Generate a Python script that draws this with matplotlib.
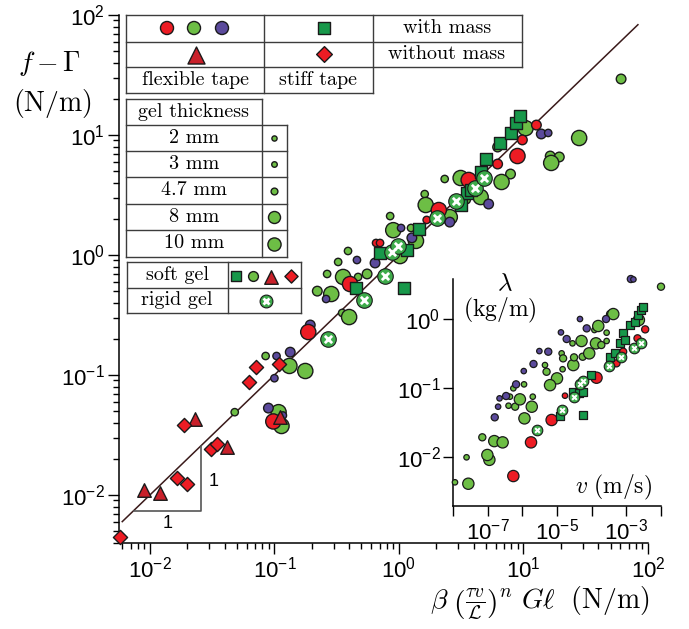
import matplotlib
matplotlib.use('Agg')
import matplotlib.pyplot as plt
from matplotlib.ticker import FixedLocator, FuncFormatter, NullLocator, LogLocator, NullFormatter
import numpy as np

plt.rcParams['font.family'] = 'Liberation Sans'
plt.rcParams['mathtext.fontset'] = 'custom'
plt.rcParams['mathtext.rm'] = 'Liberation Sans'
plt.rcParams['mathtext.it'] = 'Liberation Sans:italic'
plt.rcParams['mathtext.bf'] = 'Liberation Sans:bold'

# ---- main plot data: x = beta (tau v / L)^n G l, y = f - Gamma (N/m), gel thickness in mm
red_x = [0.098, 0.187, 0.405, 0.655, 0.705, 1.67, 2.09, 3.63, 6.2, 8.95, 9.8, 12.7]
red_y = [0.041, 0.228, 0.573, 1.26, 1.26, 1.96, 2.37, 4.22, 5.73, 6.68, 9.1, 12.1]
red_mm = [10, 10, 10, 3, 3, 3, 10, 10, 4.7, 10, 4.7, 4.7]

purple_x = [0.0895, 0.117, 0.104, 0.1, 0.134, 0.194, 0.26, 0.46, 0.643, 1.04, 1.27, 2.56,
            5.25, 13.9, 15.8]
purple_y = [0.053, 0.046, 0.144, 0.094, 0.155, 0.261, 0.43, 0.908, 0.858, 1.68, 1.39, 1.88,
            2.66, 10.2, 10.4]
purple_mm = [4.7, 3, 3, 3, 4.7, 4.7, 3, 3, 4.7, 3, 4.7, 4.7, 4.7, 4.7, 3]

green_x = [0.048, 0.085, 0.132, 0.177, 0.108, 0.114, 0.35, 0.398, 0.221, 0.286, 0.265, 0.356,
           0.47, 0.555, 0.325, 0.39, 1.02, 0.9, 0.85, 1.25, 1.37, 1.61, 1.64, 2.33, 2.56,
           3.5, 3.13, 4.53, 7.87, 6.67, 6.2, 8.95, 10.4, 16.4, 19.4, 16.7, 28.0, 60.8]
green_y = [0.049, 0.144, 0.119, 0.108, 0.049, 0.0376, 0.329, 0.304, 0.50, 0.473, 0.695, 0.656,
           0.656, 0.695, 0.875, 1.08, 0.98, 1.61, 2.11, 1.68, 1.31, 3.22, 2.61, 4.3, 2.07,
           2.87, 4.38, 3.04, 4.73, 4.06, 7.94, 11.7, 11.4, 6.68, 6.56, 5.85, 9.44, 29.3]
green_mm = [3, 3, 10, 10, 10, 10, 3, 10, 4.7, 10, 3, 10,
            3, 4.7, 3, 3, 10, 10, 3, 3, 10, 3, 10, 3, 10,
            3, 10, 10, 4.7, 10, 4.7, 3, 10, 4.7, 4.7, 10, 10, 4.7]

square_x = [0.453, 1.1, 0.705, 1.45, 1.16, 3.13, 3.5, 3.77, 4.6, 4.97, 6.43, 8.0, 8.63, 9.46]
square_y = [0.531, 0.531, 1.04, 1.65, 1.1, 2.61, 3.29, 3.48, 4.92, 6.3, 8.57, 10.4, 12.6, 14.4]

rigid_x = [0.27, 0.525, 0.77, 0.88, 0.98, 2.01, 2.86, 4.06, 4.79]
rigid_y = [0.2, 0.42, 0.668, 1.06, 1.19, 2.03, 2.82, 3.61, 4.38]

triangle_x = [0.0090, 0.012, 0.023, 0.042, 0.110]
triangle_y = [0.011, 0.0104, 0.043, 0.025, 0.0447]

diamond_x = [0.0058, 0.0165, 0.020, 0.0187, 0.031, 0.0344, 0.063, 0.0718, 0.108]
diamond_y = [0.0045, 0.0139, 0.0123, 0.0383, 0.0242, 0.0266, 0.0875, 0.1166, 0.124]

# ---- inset data: v (m/s), lambda (kg/m)
in_red_v = [5.5e-7, 1.78e-6, 7.0e-6, 1.7e-5, 1.38e-4, 5.2e-4, 8.1e-4, 2.1e-3, 3.5e-3]
in_red_l = [0.0053, 0.0163, 0.0344, 0.0774, 0.141, 0.228, 0.336, 0.525, 0.708]
in_red_mm = [10, 10, 10, 3, 10, 4.7, 4.7, 4.7, 4.7]

in_purple_v = [2.0e-7, 2.2e-7, 1.6e-7, 3.4e-7, 6.6e-7, 1.1e-6, 2.1e-6, 3.1e-6, 5.6e-6,
               1.3e-5, 1.9e-5, 4.6e-5, 7.2e-5, 2.6e-4, 1.35e-3, 1.6e-3]
in_purple_l = [0.0536, 0.0708, 0.0376, 0.0766, 0.113, 0.176, 0.223, 0.343, 0.336,
               0.64, 0.513, 1.0, 0.732, 1.0, 3.8, 3.75]
in_purple_mm = [3, 3, 4.7, 4.7, 4.7, 3, 4.7, 3, 4.7, 3, 4.7, 3, 4.7, 4.7, 4.7, 3]

in_green_v = [1.14e-8, 2.77e-8, 2.46e-8, 7.0e-8, 1.12e-7, 9.8e-8, 1.55e-7, 2.7e-7, 4.4e-7,
              5.5e-7, 4.0e-7, 6.2e-7, 8.5e-7, 1.12e-6, 2.0e-6, 1.87e-6, 1.15e-6, 4.5e-6,
              5.0e-6, 1.0e-5, 6.3e-6, 1.45e-5, 1.36e-5, 1.5e-5, 2.95e-5, 3.1e-5, 2.8e-5,
              5.1e-5, 5.5e-5, 8.5e-5, 1.33e-4, 2.7e-4, 1.9e-4, 2.7e-4, 1.2e-4, 1.55e-4,
              3.4e-4, 4.2e-4, 2.3e-3, 1.0e-2]
in_green_l = [0.0043, 0.0041, 0.0099, 0.0193, 0.0091, 0.0107, 0.017, 0.0163, 0.0749,
              0.099, 0.0554, 0.0536, 0.0685, 0.113, 0.0749, 0.0536, 0.0363, 0.215,
              0.172, 0.138, 0.11, 0.187, 0.318, 0.269, 0.215, 0.278, 0.444,
              0.48, 0.284, 0.318, 0.444, 0.48, 0.42, 0.634, 0.693, 0.792,
              1.18, 1.18, 0.967, 2.94]
in_green_mm = [3, 10, 3, 4.7, 10, 10, 10, 10, 3,
               3, 3, 4.7, 10, 3, 3, 10, 10, 3,
               4.7, 10, 10, 3, 3, 4.7, 10, 4.7, 3,
               10, 4.7, 10, 10, 3, 4.7, 3, 3, 10,
               4.7, 10, 10, 4.7]

in_square_v = [1.23e-5, 5.5e-5, 2.95e-5, 4.2e-5, 5.75e-5, 9.6e-5, 3.4e-4, 4.7e-4, 6.6e-4,
               7.8e-4, 9.1e-4, 1.28e-3, 1.78e-3, 2.24e-3, 2.57e-3, 2.95e-3]
in_square_l = [0.0393, 0.0406, 0.0885, 0.084, 0.0885, 0.154, 0.284, 0.318, 0.444,
               0.62, 0.497, 0.818, 0.914, 1.14, 1.35, 1.51]

in_rigid_v = [2.6e-6, 1.36e-5, 3.1e-5, 4.6e-5, 5.75e-5, 3.16e-4, 6.9e-4, 1.66e-3, 2.57e-3]
in_rigid_l = [0.0246, 0.048, 0.0749, 0.114, 0.126, 0.208, 0.284, 0.376, 0.454]

thickness_labels = ['2 mm', '3 mm', '4.7 mm', '8 mm', '10 mm']
thickness_values = [2, 3, 4.7, 8, 10]

# ---- styles
RED = '#ed1c24'
DARKRED = '#c9202a'
GREEN = '#6dbe45'
DKGREEN = '#17984a'
RIGID = '#3eab4b'
PURPLE = '#5b4a9c'
EDGE = '#1a1a1a'
SIZE = {2: 22, 3: 28, 4.7: 48, 8: 105, 10: 120}
LEGEND_SIZE = {2: 14, 3: 16, 4.7: 24, 8: 75, 10: 90}


def sizes(mm, scale):
    return [SIZE[m] * scale for m in mm]


def draw_rigid(ax, x, y, s, xfrac=0.24, xlw=2.0):
    ax.scatter(x, y, s=s, c=RIGID, edgecolors=EDGE, linewidths=0.8, zorder=6, clip_on=False)
    ax.scatter(x, y, s=s * xfrac, marker='x', c='white', linewidths=xlw, zorder=7, clip_on=False)


fig = plt.figure(figsize=(6.89, 6.29), dpi=100)

# ---- main axes
ax = fig.add_axes([119 / 689, 86 / 629, 529 / 689, 528 / 629])
ax.set_xscale('log')
ax.set_yscale('log')
ax.set_xlim(10 ** -2.248, 100)
ax.set_ylim(10 ** -2.4, 100)
for side in ['top', 'right']:
    ax.spines[side].set_visible(False)
for side in ['left', 'bottom']:
    ax.spines[side].set_linewidth(1.1)
ax.set_facecolor('none')
ax.xaxis.set_major_locator(LogLocator(base=10, numticks=10))
ax.yaxis.set_major_locator(LogLocator(base=10, numticks=10))
ax.xaxis.set_minor_locator(LogLocator(base=10, subs=np.arange(2, 10), numticks=20))
ax.yaxis.set_minor_locator(LogLocator(base=10, subs=np.arange(2, 10), numticks=20))
ax.xaxis.set_minor_formatter(NullFormatter())
ax.yaxis.set_minor_formatter(NullFormatter())
ax.tick_params(which='both', direction='out', width=1.0, labelsize=16, pad=2)
ax.tick_params(which='major', length=8)
ax.tick_params(which='minor', length=4)

ax.plot([0.006, 83], [0.006, 83], color='#3a1a1a', lw=1.1, zorder=1)
# slope triangle
ax.plot([10 ** -2.13, 10 ** -1.59, 10 ** -1.59], [10 ** -2.13, 10 ** -2.13, 10 ** -1.59],
        color='#555555', lw=1.2, zorder=1)

ax.scatter(green_x, green_y, s=sizes(green_mm, 1.0), c=GREEN, edgecolors=EDGE, linewidths=1.0, zorder=3)
ax.scatter(purple_x, purple_y, s=sizes(purple_mm, 1.0), c=PURPLE, edgecolors=EDGE, linewidths=1.0, zorder=3)
ax.scatter(red_x, red_y, s=sizes(red_mm, 1.0), c=RED, edgecolors=EDGE, linewidths=1.0, zorder=4)
ax.scatter(square_x, square_y, s=64, marker='s', c=DKGREEN, edgecolors=EDGE, linewidths=1.0, zorder=5)
ax.scatter(triangle_x, triangle_y, s=95, marker='^', c=DARKRED, edgecolors=EDGE, linewidths=1.0, zorder=5)
ax.scatter(diamond_x, diamond_y, s=52, marker='D', c=RED, edgecolors=EDGE, linewidths=1.0, zorder=5,
           clip_on=False)
draw_rigid(ax, rigid_x, rigid_y, 125, xfrac=0.22)

# ---- inset axes
ins = fig.add_axes([453 / 689, 123 / 629, 208 / 689, 227 / 629])
ins.set_xscale('log')
ins.set_yscale('log')
ins.set_xlim(1e-8, 1e-2)
ins.set_ylim(10 ** -2.71, 10 ** 0.58)
ins.set_facecolor('none')
for side in ['top', 'right']:
    ins.spines[side].set_visible(False)
for side in ['left', 'bottom']:
    ins.spines[side].set_linewidth(1.1)
ins.xaxis.set_major_locator(FixedLocator([10.0 ** k for k in range(-8, -1)]))
ins.xaxis.set_major_formatter(FuncFormatter(
    lambda v, p: r'$\mathdefault{10^{%d}}$' % round(np.log10(v)) if round(np.log10(v)) in (-7, -5, -3) else ''))
ins.yaxis.set_major_locator(FixedLocator([1e-2, 1e-1, 1e0]))
ins.yaxis.set_major_formatter(FuncFormatter(lambda v, p: r'$\mathdefault{10^{%d}}$' % round(np.log10(v))))
ins.xaxis.set_minor_locator(NullLocator())
ins.yaxis.set_minor_locator(NullLocator())
ins.tick_params(which='major', direction='out', length=7, width=1.0, labelsize=16, pad=2)

ins.scatter(in_green_v, in_green_l, s=sizes(in_green_mm, 0.55), c=GREEN, edgecolors=EDGE, linewidths=0.9,
            zorder=3, clip_on=False)
ins.scatter(in_purple_v, in_purple_l, s=sizes(in_purple_mm, 0.55), c=PURPLE, edgecolors=EDGE,
            linewidths=0.9, zorder=3, clip_on=False)
ins.scatter(in_red_v, in_red_l, s=sizes(in_red_mm, 0.55), c=RED, edgecolors=EDGE, linewidths=0.9, zorder=4)
ins.scatter(in_square_v, in_square_l, s=38, marker='s', c=DKGREEN, edgecolors=EDGE, linewidths=0.9, zorder=5)
draw_rigid(ins, in_rigid_v, in_rigid_l, 58, xfrac=0.2, xlw=1.5)

# ---- overlay in pixel coordinates for labels and legend tables
lg = fig.add_axes([0, 0, 1, 1], zorder=5)
lg.set_xlim(0, 689)
lg.set_ylim(629, 0)
lg.axis('off')

lg.text(50, 63, r'$f-\Gamma$', fontsize=20, ha='center', va='center', math_fontfamily='cm')
lg.text(52, 103, r'$(\mathrm{N/m})$', fontsize=20, ha='center', va='center', math_fontfamily='cm')
lg.text(650, 603, r'$\beta\ \left(\frac{\tau v}{\mathcal{L}}\right)^{n}\ G\ell\ \ (\mathrm{N/m})$',
        fontsize=20, ha='right', va='center', math_fontfamily='cm')
lg.text(505, 283, r'$\lambda$', fontsize=18, ha='center', va='center', math_fontfamily='cm')
lg.text(500, 310, r'$(\mathrm{kg/m})$', fontsize=17, ha='center', va='center', math_fontfamily='cm')
lg.text(614, 487, r'$v\ (\mathrm{m/s})$', fontsize=17, ha='center', va='center', math_fontfamily='cm')
lg.text(168, 523, '1', fontsize=13, ha='center', va='center')
lg.text(214, 482, '1', fontsize=13, ha='center', va='center')


def seg(x0, y0, x1, y1):
    lg.plot([x0, x1], [y0, y1], color='#3c3c3c', lw=1.0, solid_capstyle='projecting')


def cell_text(x, y, s):
    lg.text(x, y, s, fontsize=14.5, family='cmr10', ha='center', va='center')


# table 1: tape / mass
for yy in [15, 42, 67]:
    seg(126, yy, 522, yy)
seg(126, 93, 373, 93)
for xx in [126, 264, 373]:
    seg(xx, 15, xx, 93)
seg(522, 15, 522, 67)
cell_text(447, 28, 'with mass')
cell_text(447, 54, 'without mass')
cell_text(195, 80, 'flexible tape')
cell_text(318, 80, 'stiff tape')
lg.scatter([167, 194, 222], [28, 28, 28], s=88, c=[RED, GREEN, PURPLE], edgecolors=EDGE, linewidths=1.0)
lg.scatter([324], [28], s=66, marker='s', c=DKGREEN, edgecolors=EDGE, linewidths=1.0)
lg.scatter([196], [55], s=150, marker='^', c=DARKRED, edgecolors=EDGE, linewidths=1.0)
lg.scatter([324], [54], s=64, marker='D', c=RED, edgecolors=EDGE, linewidths=1.0)

# table 2: gel thickness
seg(126, 99, 262, 99)
row_edges = [125, 151, 177, 204, 230, 257]
for yy in row_edges:
    seg(126, yy, 287, yy)
seg(126, 99, 126, 257)
seg(262, 99, 262, 257)
seg(287, 125, 287, 257)
cell_text(194, 112, 'gel thickness')
for i, (lab, mm) in enumerate(zip(thickness_labels, thickness_values)):
    yc = (row_edges[i] + row_edges[i + 1]) / 2
    cell_text(194, yc, lab)
    lg.scatter([274], [yc], s=LEGEND_SIZE[mm], c=GREEN, edgecolors=EDGE, linewidths=1.0)

# table 3: soft / rigid gel
for yy in [262, 288, 313]:
    seg(127, yy, 301, yy)
for xx in [127, 228, 301]:
    seg(xx, 262, xx, 313)
cell_text(177, 275, 'soft gel')
cell_text(177, 300, 'rigid gel')
lg.scatter([236], [276], s=48, marker='s', c=DKGREEN, edgecolors=EDGE, linewidths=1.0)
lg.scatter([253], [276], s=50, c=GREEN, edgecolors=EDGE, linewidths=1.0)
lg.scatter([271], [277], s=95, marker='^', c=DARKRED, edgecolors=EDGE, linewidths=1.0)
lg.scatter([291], [276], s=45, marker='D', c=RED, edgecolors=EDGE, linewidths=1.0)
draw_rigid(lg, [266], [301], 85, xfrac=0.22)

fig.savefig('out.png', dpi=100)
